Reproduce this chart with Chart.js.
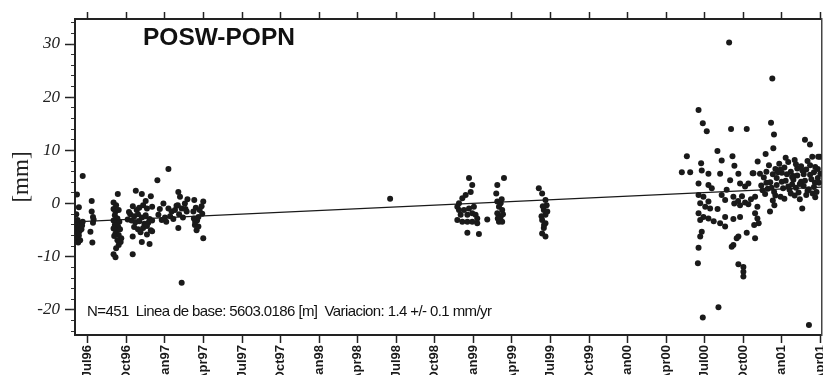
<!DOCTYPE html>
<html>
<head>
<meta charset="utf-8">
<script src="https://cdn.jsdelivr.net/npm/chart.js@4.4.1/dist/chart.umd.min.js"></script>
<style>
  html, body { margin: 0; padding: 0; background: #fff; overflow: hidden; width: 823px; height: 375px; }
  #wrap { position: relative; width: 838px; height: 375px; }
  .title { position: absolute; left: 143px; top: 24px; font: bold 24.5px "Liberation Sans", Arial, sans-serif; line-height: 25px; color: #111; white-space: nowrap; }
  .note { position: absolute; left: 87px; top: 303px; font: 15px "Liberation Sans", Arial, sans-serif; line-height: 15px; letter-spacing: -0.6px; color: #111; white-space: nowrap; }
</style>
</head>
<body>
<div id="wrap">
  <canvas id="posw" width="838" height="375"></canvas>
  <div class="title">POSW-POPN</div>
  <div class="note">N=451&nbsp; Linea de base: 5603.0186 [m]&nbsp; Variacion: 1.4 +/- 0.1 mm/yr</div>
</div>
<script>
// x = months since Jan 1996, y = mm
const tickLabels = ['Jul96', 'Oct96', 'Jan97', 'Apr97', 'Jul97', 'Oct97', 'Jan98', 'Apr98', 'Jul98', 'Oct98',
                    'Jan99', 'Apr99', 'Jul99', 'Oct99', 'Jan00', 'Apr00', 'Jul00', 'Oct00', 'Jan01', 'Apr01'];
const tickMonths = [6, 9, 12, 15, 18, 21, 24, 27, 30, 33, 36, 39, 42, 45, 48, 51, 54, 57, 60, 63];
const yTicks = [-20, -10, 0, 10, 20, 30];
const yMinorTicks = [-24, -22, -20, -18, -16, -14, -12, -10, -8, -6, -4, -2, 0, 2, 4, 6, 8, 10,
                     12, 14, 16, 18, 20, 22, 24, 26, 28, 30, 32, 34];

// Jun-Jul 1996
const camp96a = [[5.6, 5.2], [5.15, 1.7], [5.3, -0.7], [5.1, -2.0], [5.2, -3.1], [5.3, -3.6], [5.15, -4.0],
  [5.4, -4.3], [5.25, -4.6], [5.1, -5.0], [5.35, -5.2], [5.2, -5.6], [5.45, -3.8], [5.3, -6.0], [5.15, -6.5],
  [5.4, -6.9], [5.25, -7.3], [5.5, -4.8], [5.55, -4.1], [5.6, -3.4], [6.3, 0.5], [6.3, -1.5], [6.4, -2.5],
  [6.45, -3.0], [6.2, -5.3], [6.35, -7.3], [6.4, -3.6]];
// Sep 1996
const camp96b = [[8.33, 1.8], [8.0, 0.2], [8.2, -0.3], [8.0, -1.0], [8.15, -1.5], [8.4, -1.2], [8.1, -2.2],
  [8.3, -2.8], [8.0, -3.2], [8.2, -3.6], [8.45, -3.4], [8.1, -4.0], [8.35, -4.3], [8.0, -4.7], [8.25, -5.0],
  [8.5, -4.8], [8.15, -5.6], [8.4, -5.9], [8.6, -6.5], [8.3, -6.9], [8.55, -7.2], [8.4, -7.8], [8.0, -9.5],
  [8.15, -10.1], [8.2, -8.4], [8.05, -6.1]];
// Oct-Nov 1996
const camp96c = [[9.73, 2.4], [10.2, 1.8], [10.5, 0.5], [9.5, -0.5], [9.8, -1.2], [10.0, -0.8], [10.3, -0.3],
  [10.6, -0.9], [10.9, 1.4], [11.0, -0.6], [9.3, -2.0], [9.6, -2.4], [9.9, -2.0], [10.2, -2.6], [10.5, -2.2],
  [10.8, -2.9], [9.4, -3.2], [9.7, -3.5], [10.0, -3.3], [10.4, -3.8], [10.7, -3.6], [11.0, -3.2], [9.6, -4.4],
  [9.9, -4.8], [10.3, -4.6], [10.6, -4.2], [10.9, -5.0], [10.1, -5.4], [10.6, -5.8], [11.0, -5.2], [9.49, -6.2],
  [10.2, -7.2], [10.8, -7.6], [9.49, -9.5], [9.1, -3.0], [9.2, -1.6]];
// Dec 1996 - Feb 1997
const camp97a = [[11.41, 4.4], [12.27, 6.5], [11.49, -2.1], [11.75, -3.1], [11.88, 0.0], [12.0, -2.6],
  [12.27, -0.9], [12.4, -2.4], [12.52, -1.5], [12.65, -2.9], [12.78, -1.2], [12.9, -0.4], [13.04, 2.2],
  [13.1, -2.0], [13.17, 1.3], [13.0, -0.3], [13.3, -0.9], [13.4, -2.6], [13.55, 0.0], [13.6, -1.0],
  [13.69, -1.5], [13.75, 0.8], [13.04, -4.6], [13.3, -14.9], [11.6, -1.0], [12.1, -3.4]];
// Mar-Apr 1997
const camp97b = [[14.28, 0.7], [14.98, 0.4], [14.21, -1.5], [14.6, -2.5], [14.33, -4.0], [14.46, -5.0],
  [14.98, -6.5], [14.4, -0.8], [14.7, -1.2], [14.85, -0.5], [14.5, -3.2], [14.25, -2.8], [14.9, -1.9],
  [14.6, -4.3], [14.35, -3.4]];
// Jul 1998
const camp98 = [[29.52, 0.9]];
// Nov 1998 - Jan 1999
const camp99a = [[35.66, 4.8], [35.91, 3.5], [35.79, 2.2], [35.4, 1.6], [35.14, 1.0], [34.88, 0.05],
  [34.75, -0.6], [35.27, -1.2], [35.66, -0.9], [35.91, -1.8], [35.53, -2.1], [34.75, -3.1], [35.14, -3.4],
  [35.53, -3.4], [35.91, -3.4], [36.3, -3.7], [35.53, -5.5], [36.43, -5.7], [37.08, -3.0], [36.17, -2.1],
  [35.01, -2.1], [36.04, -0.6], [36.3, -2.8], [34.88, -1.2]];
// Mar 1999
const camp99b = [[38.38, 4.8], [37.86, 3.5], [37.78, 1.9], [37.86, 0.4], [38.12, 0.05], [37.99, -0.6],
  [38.24, -1.2], [37.86, -1.8], [38.12, -2.5], [37.99, -3.4], [38.24, -3.4], [38.3, -2.0], [37.9, -2.8],
  [38.2, 0.8]];
// Jun 1999
const camp99c = [[41.09, 2.9], [41.35, 1.9], [41.61, 0.7], [41.7, -0.3], [41.48, -1.2], [41.61, -2.1],
  [41.35, -3.1], [41.61, -3.7], [41.48, -4.6], [41.35, -5.6], [41.61, -6.2], [41.4, -0.5], [41.3, -2.4],
  [41.75, -1.5], [41.5, -4.0]];
// May 2000 - Mar 2001
const camp00 = [[55.9, 30.3], [59.26, 23.5], [53.52, 17.6], [53.85, 15.1], [54.16, 13.6], [56.05, 14.0],
  [57.27, 14.0], [59.16, 15.2], [59.39, 13.0], [61.8, 12.0], [62.19, 11.1], [59.34, 10.4], [58.74, 9.3],
  [58.12, 7.9], [52.61, 8.9], [54.99, 9.9], [56.16, 8.9], [55.32, 8.1], [53.72, 7.6], [56.31, 7.1],
  [52.22, 5.9], [52.87, 5.9], [53.77, 6.2], [54.29, 5.6], [55.2, 5.6], [56.62, 5.6], [57.73, 5.7],
  [62.37, 8.8], [62.96, 8.8],
  [53.52, 3.8], [54.29, 3.5], [54.55, 2.9], [55.98, 4.4], [56.75, 3.8], [57.14, 3.2], [57.4, 3.8],
  [57.79, 5.7], [55.71, 2.6], [55.32, 1.6], [55.59, 0.7], [56.23, 1.3],
  [53.52, 1.6], [53.9, 1.3], [54.29, 0.4], [53.65, 0.05], [54.04, -0.6], [54.42, -0.9],
  [53.52, -1.8], [53.9, -2.5], [54.29, -2.8], [53.65, -3.1],
  [53.77, -5.3], [53.65, -6.2], [53.52, -8.3], [53.47, -11.2], [53.85, -21.4], [55.07, -19.5],
  [55.2, -3.7], [55.59, -4.3], [55.59, -2.5], [56.23, -2.9], [56.75, -2.5],
  [56.3, 0.0], [56.75, -0.3], [57.14, 0.2], [57.4, -0.1], [56.6, 0.5],
  [57.92, 1.3], [58.1, -0.6], [57.92, -1.8], [58.1, -2.8], [58.2, -3.7], [57.85, -4.0],
  [57.27, -5.5], [56.62, -6.2], [56.49, -6.5], [56.23, -7.8], [56.1, -8.1], [57.92, -6.5],
  [56.62, -11.4], [57.01, -11.9], [57.01, -12.8], [57.01, -13.7],
  [59.08, -1.5], [59.42, -0.3], [61.59, -0.9], [62.11, -22.8],
  [58.8, 6.0], [59.0, 7.2], [59.3, 5.5], [59.5, 6.5], [59.8, 7.5], [60.0, 5.8], [60.2, 6.8], [60.5, 7.8],
  [60.7, 6.0], [61.0, 8.2], [61.2, 6.6], [61.5, 7.0], [61.7, 5.5], [61.9, 6.4], [62.2, 7.2], [62.5, 5.9],
  [62.8, 6.5], [60.3, 8.6], [60.9, 5.2], [59.6, 4.8], [58.6, 4.9], [62.0, 8.0],
  [58.4, 3.4], [58.7, 1.8], [58.9, 2.8], [59.1, 4.0], [59.4, 2.2], [59.6, 3.5], [59.9, 1.3], [60.1, 2.9],
  [60.3, 4.3], [60.5, 3.2], [60.7, 1.9], [60.9, 4.5], [61.1, 3.0], [61.3, 2.1], [61.5, 4.1], [61.7, 3.3],
  [61.9, 1.6], [62.1, 2.7], [62.3, 4.6], [62.5, 3.1], [62.7, 2.2], [62.9, 3.9], [60.2, 0.9], [61.4, 0.8],
  [62.6, 1.2], [59.3, 0.6], [60.8, 5.0], [62.58, 3.9], [62.83, 8.8],
  [58.5, 2.5], [58.8, 3.9], [59.2, 3.0], [59.5, 1.5], [59.7, 5.9], [60.0, 4.1], [60.4, 5.5], [60.6, 2.6],
  [60.8, 3.6], [61.0, 1.5], [61.2, 5.3], [61.4, 3.7], [61.6, 6.2], [61.8, 4.3], [62.0, 2.4], [62.2, 5.4],
  [62.4, 1.9], [62.6, 6.9], [62.8, 4.8], [63.0, 5.6], [58.3, 5.6], [59.9, 6.4], [61.1, 7.4], [56.9, 1.4],
  [57.6, 0.8], [55.0, -1.0], [54.7, -3.3]];

// fitted trend, read at both ends of the plot
const trendLine = [[5, -3.45], [63.1, 3.1]];

const xMin = 5, xMax = 63.1;
const yMin = -24.7, yMax = 34.7;

const points = [].concat(camp96a, camp96b, camp96c, camp97a, camp97b, camp98, camp99a, camp99b, camp99c, camp00)
  .map(p => ({x: p[0], y: p[1]}));

const ink = '#1a1a1a';

function quarterTicks(scale) {
  scale.ticks = tickMonths.map(v => ({value: v}));
}

new Chart(document.getElementById('posw'), {
  type: 'scatter',
  data: {
    datasets: [
      {
        data: trendLine.map(p => ({x: p[0], y: p[1]})),
        showLine: true,
        borderColor: ink,
        borderWidth: 1.2,
        pointRadius: 0,
        order: 0
      },
      {
        data: points,
        backgroundColor: ink,
        borderColor: ink,
        borderWidth: 0,
        pointRadius: 3,
        order: 1
      }
    ]
  },
  options: {
    responsive: false,
    animation: false,
    layout: { padding: 0 },
    plugins: {
      legend: { display: false },
      tooltip: { enabled: false }
    },
    scales: {
      x: {
        type: 'linear',
        position: 'bottom',
        min: xMin,
        max: xMax,
        afterBuildTicks: quarterTicks,
        afterFit: s => { s.height = 40; },
        ticks: {
          autoSkip: false,
          minRotation: 90,
          maxRotation: 90,
          padding: 2,
          color: '#1a1a1a',
          font: { family: '"Liberation Sans Narrow", "Liberation Sans", Arial, sans-serif', size: 13, weight: 'bold' },
          callback: v => tickLabels[tickMonths.indexOf(v)]
        },
        grid: { drawOnChartArea: false, tickLength: 8, tickColor: '#222', tickWidth: 1.5 },
        border: { color: '#222', width: 2 }
      },
      xTop: {
        type: 'linear',
        position: 'top',
        min: xMin,
        max: xMax,
        afterBuildTicks: quarterTicks,
        afterFit: s => { s.height = 19; },
        ticks: { display: false },
        grid: { drawOnChartArea: false, tickLength: 7, tickColor: '#222', tickWidth: 1.5 },
        border: { color: '#222', width: 2 }
      },
      y: {
        position: 'left',
        weight: 1,
        min: yMin,
        max: yMax,
        afterBuildTicks: s => { s.ticks = yTicks.map(v => ({value: v})); },
        afterFit: s => { s.width = 75; },
        ticks: {
          padding: 5,
          color: '#222',
          font: { family: '"Liberation Serif", "Times New Roman", serif', size: 17, style: 'italic' }
        },
        grid: { drawOnChartArea: false, tickLength: 10, tickColor: '#222', tickWidth: 1.5 },
        border: { color: '#222', width: 2 },
        title: {
          display: true,
          text: '[mm]',
          color: '#222',
          font: { family: '"Liberation Serif", "Times New Roman", serif', size: 23 },
          padding: { top: 8, bottom: 0 }
        }
      },
      yMinor: {
        position: 'left',
        weight: 0,
        min: yMin,
        max: yMax,
        afterBuildTicks: s => { s.ticks = yMinorTicks.map(v => ({value: v})); },
        afterFit: s => { s.width = 0; },
        ticks: { display: false },
        grid: { drawOnChartArea: false, tickLength: 4, tickColor: '#333', tickWidth: 1 },
        border: { display: false }
      },
      yRight: {
        position: 'right',
        min: yMin,
        max: yMax,
        afterFit: s => { s.width = 0; },
        ticks: { display: false },
        grid: { drawOnChartArea: false, drawTicks: false },
        border: { color: '#444', width: 1.5 }
      }
    }
  }
});
</script>
</body>
</html>
